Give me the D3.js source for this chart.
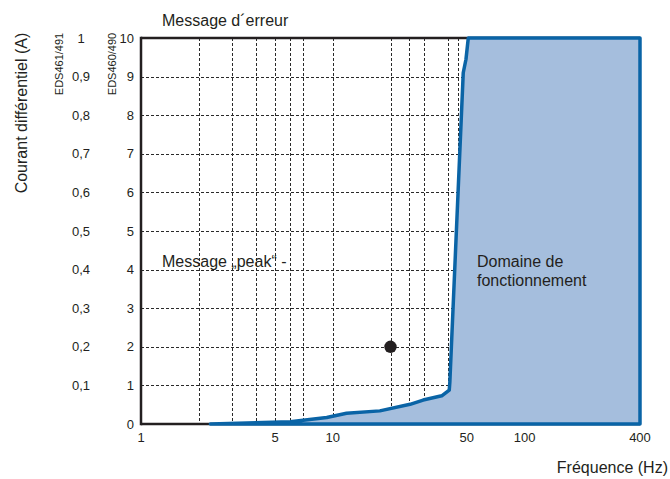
<!DOCTYPE html>
<html>
<head>
<meta charset="utf-8">
<script src="https://cdn.jsdelivr.net/npm/d3@7"></script>
<style>
  html, body { margin: 0; padding: 0; background: #fff; }
  svg { display: block; }
  text { font-family: "Liberation Sans", Arial, Helvetica, sans-serif; fill: #231f20; }
</style>
</head>
<body>
<svg id="chart" width="670" height="479"></svg>
<script>
// Operating range boundary: frequency (Hz) vs. differential current (scale 0..10)
const boundaryFreq  = [2.3, 6, 9.3, 11.8, 17.6, 25.3, 29.6, 37, 40.5, 40.8, 47.9, 49.5, 50.9, 400, 400];
const boundaryLevel = [0, 0.06, 0.17, 0.28, 0.34, 0.51, 0.62, 0.73, 0.88, 1.1, 9.1, 9.45, 10, 10, 0];

// Example measurement point
const pointFreq = [20];
const pointLevel = [2];

// Axis ticks
const xTickValues = [1, 5, 10, 50, 100, 400];
const xGridValues = [2, 3, 4, 5, 6, 7, 10, 20, 25, 30, 40, 45];
const yTickValues = [0, 1, 2, 3, 4, 5, 6, 7, 8, 9, 10];
const yTickLabels490 = ["0", "1", "2", "3", "4", "5", "6", "7", "8", "9", "10"];
const yTickLabels491 = ["", "0,1", "0,2", "0,3", "0,4", "0,5", "0,6", "0,7", "0,8", "0,9", "1"];

const svg = d3.select("#chart");
const ink = "#231f20";
const fillBlue = "#a5bedd";
const lineBlue = "#0a64a6";

const x = d3.scaleLog().domain([1, 400]).range([141, 640]);
const y = d3.scaleLinear().domain([0, 10]).range([424, 38]);

// Dashed grid
const grid = svg.append("g").attr("stroke", "#2a2a2a").attr("stroke-width", 1)
  .attr("stroke-dasharray", "3,2").attr("fill", "none");
grid.selectAll("line.v").data(xGridValues).join("line").attr("class", "v")
  .attr("x1", d => Math.round(x(d)) + 0.5).attr("x2", d => Math.round(x(d)) + 0.5)
  .attr("y1", y(10)).attr("y2", y(0));
grid.selectAll("line.h").data(yTickValues.filter(v => v > 0 && v < 10)).join("line").attr("class", "h")
  .attr("y1", d => Math.round(y(d)) + 0.5).attr("y2", d => Math.round(y(d)) + 0.5)
  .attr("x1", x(1)).attr("x2", x(400));

// Frame
const frame = svg.append("g").attr("stroke", ink).attr("stroke-width", 2.5).attr("fill", "none");
frame.append("line").attr("x1", x(1)).attr("x2", x(1)).attr("y1", y(10) - 1.2).attr("y2", y(0) + 1.2);
frame.append("line").attr("x1", x(1)).attr("x2", x(400)).attr("y1", y(10)).attr("y2", y(10));
frame.append("line").attr("x1", x(1)).attr("x2", x(400)).attr("y1", y(0)).attr("y2", y(0));

// Operating area
const pts = boundaryFreq.map((f, i) => [x(f), y(boundaryLevel[i])]);
svg.append("path")
  .attr("d", d3.line()(pts) + "Z")
  .attr("fill", fillBlue)
  .attr("stroke", lineBlue)
  .attr("stroke-width", 3.5)
  .attr("stroke-linejoin", "round");

// Measurement point
svg.selectAll("circle.pt").data(pointFreq).join("circle").attr("class", "pt")
  .attr("cx", d => x(d)).attr("cy", (d, i) => y(pointLevel[i])).attr("r", 6.2)
  .attr("fill", ink);

// X tick labels
svg.append("g").selectAll("text").data(xTickValues).join("text")
  .attr("x", d => x(d)).attr("y", 442)
  .attr("text-anchor", "middle").attr("font-size", 13)
  .text(d => d);

// Y tick labels, EDS460/490 scale
svg.append("g").selectAll("text").data(yTickValues).join("text")
  .attr("x", 134).attr("y", d => y(d) + 4.5)
  .attr("text-anchor", "end").attr("font-size", 13)
  .text((d, i) => yTickLabels490[i]);

// Y tick labels, EDS461/491 scale
svg.append("g").selectAll("text").data(yTickValues).join("text")
  .attr("x", 81).attr("y", d => y(d) + 4.5)
  .attr("text-anchor", "middle").attr("font-size", 13)
  .text((d, i) => yTickLabels491[i]);

// Scale captions (rotated)
svg.append("text").attr("transform", "translate(63,64) rotate(-90)")
  .attr("text-anchor", "middle").attr("font-size", 11).text("EDS461/491");
svg.append("text").attr("transform", "translate(116,64) rotate(-90)")
  .attr("text-anchor", "middle").attr("font-size", 11).text("EDS460/490");

// Axis titles
svg.append("text").attr("transform", "translate(27,113) rotate(-90)")
  .attr("text-anchor", "middle").attr("font-size", 16).text("Courant différentiel (A)");
svg.append("text").attr("x", 668).attr("y", 473)
  .attr("text-anchor", "end").attr("font-size", 16).text("Fréquence (Hz)");

// Region annotations
svg.append("text").attr("x", 162).attr("y", 26).attr("font-size", 16).text("Message d´erreur");
svg.append("text").attr("x", 162).attr("y", 267).attr("font-size", 16).text("Message „peak“ -");
svg.append("text").attr("x", 477).attr("y", 267).attr("font-size", 16).text("Domaine de");
svg.append("text").attr("x", 477).attr("y", 286).attr("font-size", 16).text("fonctionnement");
</script>
</body>
</html>
